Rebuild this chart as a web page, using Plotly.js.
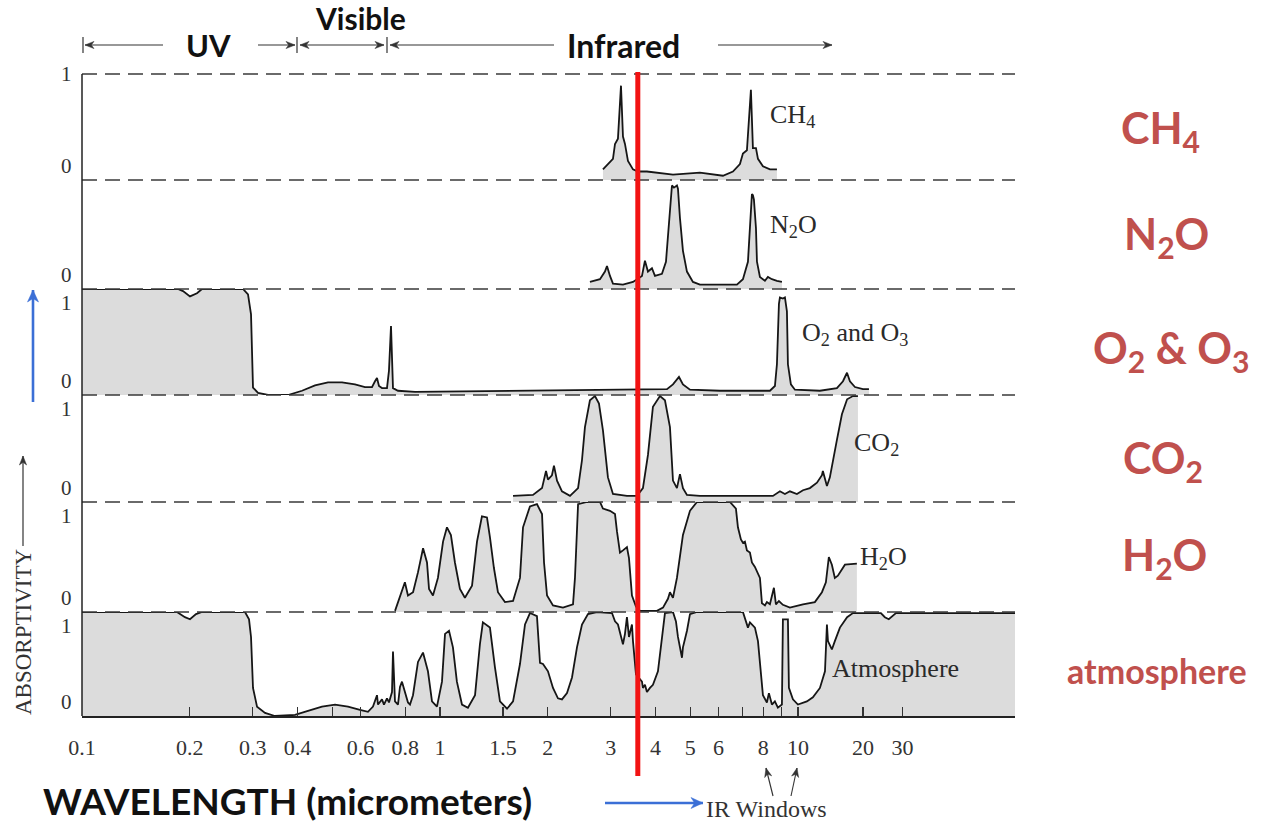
<!DOCTYPE html>
<html>
<head>
<meta charset="utf-8">
<script src="https://cdn.plot.ly/plotly-3.0.1.min.js"></script>
<style>
html,body{margin:0;padding:0;background:#ffffff;}
#chart{width:1261px;height:825px;}
</style>
</head>
<body>
<div id="chart"></div>
<script>
// ---------------- DATA (wavelength in micrometers, absorptivity 0..1) ----------------
const ch4Wavelength = [2.853, 3.043, 3.083, 3.142, 3.204, 3.245, 3.287, 3.351, 3.461, 3.574, 3.786, 4.476, 5.324, 6.173, 6.583, 6.886, 7.020, 7.203, 7.390, 7.486, 7.634, 7.733, 7.984, 8.351, 8.736];
const ch4Absorptivity = [0.10, 0.20, 0.34, 0.39, 0.89, 0.41, 0.34, 0.18, 0.10, 0.08, 0.08, 0.05, 0.07, 0.04, 0.08, 0.15, 0.25, 0.28, 0.85, 0.30, 0.30, 0.20, 0.13, 0.10, 0.10];

const n2oWavelength = [2.624, 2.799, 2.890, 2.928, 2.985, 3.043, 3.245, 3.461, 3.667, 3.738, 3.811, 3.910, 3.986, 4.170, 4.279, 4.334, 4.418, 4.447, 4.504, 4.592, 4.622, 4.682, 4.773, 4.897, 5.090, 5.324, 6.754, 7.020, 7.250, 7.390, 7.438, 7.486, 7.535, 7.634, 7.683, 7.831, 8.087, 8.244, 8.459, 8.736, 9.021];
const n2oAbsorptivity = [0.065, 0.09, 0.16, 0.21, 0.12, 0.05, 0.04, 0.065, 0.12, 0.26, 0.16, 0.19, 0.12, 0.14, 0.25, 0.47, 0.84, 0.95, 0.93, 0.95, 0.92, 0.65, 0.35, 0.16, 0.065, 0.04, 0.04, 0.09, 0.25, 0.65, 0.87, 0.86, 0.82, 0.56, 0.25, 0.11, 0.075, 0.11, 0.09, 0.075, 0.065];

const o2o3Wavelength = [0.100, 0.1854, 0.1915, 0.2003, 0.2095, 0.2164, 0.2817, 0.2909, 0.2966, 0.2985, 0.3004, 0.3103, 0.3309, 0.3763, 0.4117, 0.4476, 0.4866, 0.5325, 0.5789, 0.6173, 0.6458, 0.6584, 0.6669, 0.6755, 0.6887, 0.7112, 0.7204, 0.7298, 0.7345, 0.7392, 0.7633, 0.8140, 0.8516, 3.183, 4.307, 4.476, 4.652, 4.773, 4.993, 6.055, 8.351, 8.624, 8.736, 8.850, 8.906, 9.079, 9.197, 9.316, 9.376, 9.557, 9.807, 11.52, 12.85, 13.36, 13.71, 13.97, 14.43, 15.19, 15.79];
const o2o3Absorptivity = [1.0, 1.0, 0.98, 0.93, 0.96, 1.0, 1.0, 0.95, 0.76, 0.29, 0.07, 0.02, 0.0, 0.0, 0.04, 0.09, 0.12, 0.12, 0.10, 0.075, 0.075, 0.13, 0.16, 0.085, 0.065, 0.065, 0.23, 0.65, 0.20, 0.065, 0.04, 0.03, 0.03, 0.05, 0.055, 0.10, 0.17, 0.10, 0.05, 0.04, 0.04, 0.085, 0.29, 0.86, 0.92, 0.91, 0.92, 0.79, 0.29, 0.10, 0.05, 0.04, 0.065, 0.13, 0.21, 0.13, 0.075, 0.055, 0.055];

const co2Wavelength = [1.600, 1.819, 1.928, 1.978, 2.003, 2.055, 2.082, 2.123, 2.192, 2.308, 2.431, 2.493, 2.541, 2.624, 2.710, 2.781, 2.853, 2.946, 3.043, 3.329, 3.551, 3.690, 3.811, 3.935, 4.117, 4.251, 4.390, 4.476, 4.592, 4.682, 4.773, 4.897, 5.324, 8.514, 8.906, 9.197, 9.497, 9.935, 10.33, 10.80, 11.30, 11.67, 11.74, 12.05, 12.28, 12.52, 12.85, 13.27, 13.72, 14.24, 14.71];
const co2Absorptivity = [0.057, 0.066, 0.13, 0.29, 0.21, 0.25, 0.34, 0.20, 0.10, 0.057, 0.13, 0.39, 0.70, 0.95, 0.99, 0.92, 0.67, 0.23, 0.075, 0.057, 0.057, 0.13, 0.44, 0.89, 0.99, 0.95, 0.70, 0.20, 0.13, 0.26, 0.13, 0.066, 0.057, 0.057, 0.10, 0.075, 0.10, 0.075, 0.11, 0.13, 0.18, 0.25, 0.29, 0.15, 0.23, 0.39, 0.58, 0.82, 0.96, 0.99, 0.99];

const h2oWavelength = [0.749, 0.773, 0.798, 0.814, 0.841, 0.868, 0.897, 0.920, 0.932, 0.956, 0.987, 1.020, 1.046, 1.073, 1.101, 1.137, 1.174, 1.229, 1.269, 1.310, 1.353, 1.379, 1.415, 1.452, 1.519, 1.600, 1.673, 1.706, 1.784, 1.866, 1.928, 1.953, 1.991, 2.069, 2.206, 2.353, 2.383, 2.431, 2.574, 2.799, 2.853, 2.985, 3.083, 3.123, 3.183, 3.245, 3.329, 3.373, 3.438, 3.528, 3.620, 4.038, 4.198, 4.334, 4.390, 4.476, 4.592, 4.773, 4.993, 5.223, 6.457, 6.711, 6.798, 6.930, 7.020, 7.111, 7.203, 7.343, 7.438, 7.583, 7.733, 7.831, 7.933, 8.087, 8.190, 8.351, 8.568, 8.679, 8.848, 9.078, 9.497, 10.33, 11.15, 11.67, 11.97, 12.20, 12.44, 12.68, 12.93, 13.53, 14.61];
const h2oAbsorptivity = [0.01, 0.15, 0.27, 0.15, 0.18, 0.36, 0.58, 0.45, 0.21, 0.15, 0.31, 0.64, 0.77, 0.70, 0.45, 0.21, 0.13, 0.24, 0.64, 0.87, 0.86, 0.68, 0.40, 0.18, 0.09, 0.10, 0.31, 0.77, 0.96, 0.98, 0.89, 0.45, 0.15, 0.06, 0.04, 0.07, 0.31, 0.98, 1.0, 1.0, 0.94, 0.92, 0.89, 0.73, 0.54, 0.56, 0.59, 0.49, 0.15, 0.05, 0.01, 0.01, 0.04, 0.12, 0.18, 0.13, 0.31, 0.70, 0.92, 1.0, 1.0, 0.94, 0.77, 0.66, 0.63, 0.64, 0.56, 0.54, 0.45, 0.41, 0.35, 0.31, 0.08, 0.06, 0.09, 0.07, 0.22, 0.07, 0.10, 0.065, 0.04, 0.07, 0.09, 0.18, 0.27, 0.50, 0.43, 0.31, 0.33, 0.43, 0.44];

const atmWavelength = [0.100, 0.1842, 0.1939, 0.2003, 0.2082, 0.2164, 0.2853, 0.2928, 0.2966, 0.3004, 0.3083, 0.3246, 0.3459, 0.3936, 0.4279, 0.4682, 0.5091, 0.5535, 0.5978, 0.6294, 0.6500, 0.6669, 0.6712, 0.6887, 0.6976, 0.7112, 0.7204, 0.7345, 0.7392, 0.7488, 0.7633, 0.7732, 0.7832, 0.7985, 0.8140, 0.8246, 0.8407, 0.8681, 0.8966, 0.9256, 0.9500, 0.9809, 1.013, 1.033, 1.060, 1.087, 1.115, 1.152, 1.197, 1.253, 1.293, 1.318, 1.379, 1.424, 1.471, 1.539, 1.600, 1.673, 1.728, 1.784, 1.866, 1.903, 1.940, 2.003, 2.069, 2.136, 2.192, 2.264, 2.338, 2.414, 2.493, 2.591, 2.746, 3.024, 3.083, 3.142, 3.204, 3.245, 3.287, 3.329, 3.373, 3.438, 3.461, 3.528, 3.667, 3.690, 3.738, 3.786, 3.860, 3.935, 4.064, 4.170, 4.251, 4.476, 4.563, 4.622, 4.743, 4.773, 4.898, 4.993, 5.223, 7.020, 7.157, 7.250, 7.343, 7.583, 7.733, 7.882, 7.984, 8.190, 8.297, 8.459, 8.622, 8.790, 9.021, 9.079, 9.197, 9.376, 9.436, 9.682, 9.998, 10.59, 11.01, 11.52, 11.90, 12.05, 12.13, 12.44, 12.68, 13.10, 13.72, 14.24, 17.05, 17.49, 17.94, 18.42, 18.78, 40.4];
const atmAbsorptivity = [1.0, 1.0, 0.95, 0.93, 0.98, 1.0, 1.0, 0.93, 0.76, 0.27, 0.09, 0.03, 0.0, 0.01, 0.05, 0.09, 0.11, 0.09, 0.06, 0.04, 0.09, 0.20, 0.11, 0.16, 0.11, 0.17, 0.13, 0.23, 0.62, 0.14, 0.11, 0.28, 0.33, 0.22, 0.13, 0.11, 0.20, 0.52, 0.61, 0.43, 0.14, 0.09, 0.33, 0.79, 0.82, 0.66, 0.33, 0.11, 0.08, 0.20, 0.69, 0.90, 0.85, 0.47, 0.14, 0.07, 0.14, 0.50, 0.88, 0.99, 0.96, 0.51, 0.50, 0.43, 0.27, 0.17, 0.16, 0.22, 0.37, 0.66, 0.88, 0.98, 1.0, 0.99, 0.91, 0.88, 0.77, 0.69, 0.79, 0.95, 0.76, 0.88, 0.72, 0.40, 0.33, 0.27, 0.30, 0.23, 0.27, 0.30, 0.43, 0.76, 0.99, 1.0, 0.91, 0.76, 0.56, 0.66, 0.82, 0.98, 1.0, 1.0, 0.91, 0.85, 0.90, 0.85, 0.72, 0.43, 0.20, 0.13, 0.22, 0.11, 0.14, 0.08, 0.11, 0.93, 0.93, 0.93, 0.27, 0.16, 0.11, 0.14, 0.18, 0.27, 0.43, 0.88, 0.72, 0.64, 0.72, 0.85, 0.95, 0.99, 0.99, 0.95, 0.93, 0.96, 0.99, 0.99];

// x axis ticks (positions as printed on the reference figure)
const xTickValues = [0.1, 0.2, 0.3, 0.4, 0.6, 0.8, 1, 1.5, 2, 3, 4, 5, 6, 8, 10, 15.2, 19.6];
const xTickLabels = ['0.1', '0.2', '0.3', '0.4', '0.6', '0.8', '1', '1.5', '2', '3', '4', '5', '6', '8', '10', '20', '30'];
const xUnlabeledTicks = [0.5, 7, 9];
const xRangeMicrons = [0.1, 40.4];

// panels
const panelGases = ['CH<sub>4</sub>', 'N<sub>2</sub>O', 'O<sub>2</sub> and O<sub>3</sub>', 'CO<sub>2</sub>', 'H<sub>2</sub>O', 'Atmosphere'];
const panelSideNames = ['CH<sub>4</sub>', 'N<sub>2</sub>O', 'O<sub>2</sub> & O<sub>3</sub>', 'CO<sub>2</sub>', 'H<sub>2</sub>O', 'atmosphere'];
const panelTopTick = ['1', '', '1', '1', '1', '1'];
const panelBaseTick = ['0', '0', '0', '0', '0', '0'];
const markedWavelength = 3.57;

// ---------------- LAYOUT HELPERS ----------------
const plotLeft = 82, plotRight = 1015, plotTop = 74, plotBottom = 716;
const px = x => (x - plotLeft) / (plotRight - plotLeft);
const py = y => (plotBottom - y) / (plotBottom - plotTop);
const logMin = Math.log10(xRangeMicrons[0]), logMax = Math.log10(xRangeMicrons[1]);
const wx = w => (Math.log10(w) - logMin) / (logMax - logMin);
const panelEdgesPx = [74, 180, 289, 395, 502, 612, 716];

const seriesX = [ch4Wavelength, n2oWavelength, o2o3Wavelength, co2Wavelength, h2oWavelength, atmWavelength];
const seriesY = [ch4Absorptivity, n2oAbsorptivity, o2o3Absorptivity, co2Absorptivity, h2oAbsorptivity, atmAbsorptivity];
const axId = i => (i === 0 ? 'y' : 'y' + (i + 1));

const traces = seriesX.map((xs, i) => ({
  type: 'scatter', mode: 'lines', x: xs, y: seriesY[i], xaxis: 'x', yaxis: axId(i),
  line: {color: '#161616', width: 1.8}, fill: 'tozeroy', fillcolor: '#dcdcdc',
  hoverinfo: 'skip', showlegend: false
}));

const serif = 'Liberation Serif, Times New Roman, serif';
const sans = 'Lato, Open Sans, sans-serif';
const accent = '#c0504d';

const layout = {
  width: 1261, height: 825, autosize: false,
  margin: {l: plotLeft, r: 1261 - plotRight, t: plotTop, b: 825 - plotBottom, pad: 0},
  paper_bgcolor: '#ffffff', plot_bgcolor: 'rgba(0,0,0,0)',
  showlegend: false,
  font: {family: serif, color: '#222'},
  xaxis: {
    type: 'log', range: [logMin, logMax], anchor: 'y6', domain: [0, 1],
    tickmode: 'array', tickvals: xTickValues, ticktext: xTickLabels,
    ticks: 'inside', ticklen: 9, tickwidth: 1.3, tickcolor: '#333',
    minor: {tickmode: 'array', tickvals: xUnlabeledTicks, ticks: 'inside', ticklen: 9, tickwidth: 1.3, tickcolor: '#333', showgrid: false},
    showline: true, linecolor: '#222', linewidth: 1.6, mirror: false,
    showgrid: false, zeroline: false, fixedrange: true,
    tickfont: {family: serif, size: 22, color: '#333'}, ticklabelstandoff: 11
  },
  shapes: [], annotations: []
};

for (let i = 0; i < 6; i++) {
  const key = i === 0 ? 'yaxis' : 'yaxis' + (i + 1);
  layout[key] = {
    domain: [py(panelEdgesPx[i + 1]), py(panelEdgesPx[i])], range: [0, 1], anchor: 'x',
    showticklabels: false, showgrid: false, zeroline: false, showline: false, ticks: '', fixedrange: true
  };
  // 0 / 1 labels
  layout.annotations.push({xref: 'paper', x: 0, xanchor: 'right', xshift: -8, yref: axId(i), y: 0,
    yanchor: 'bottom', text: panelBaseTick[i], showarrow: false,
    font: {family: serif, size: 21, color: '#333'}});
  if (panelTopTick[i]) {
    layout.annotations.push({xref: 'paper', x: 0, xanchor: 'right', xshift: -8, yref: axId(i), y: 1,
      yanchor: i === 0 ? 'middle' : 'top', text: panelTopTick[i], showarrow: false,
      font: {family: serif, size: 21, color: '#333'}});
  }
}

const S = layout.shapes;
// dashed panel boundaries
panelEdgesPx.slice(0, 6).forEach(e => {
  S.push({type: 'line', xref: 'paper', yref: 'paper', x0: 0, x1: 1, y0: py(e), y1: py(e),
    line: {color: '#3a3a3a', width: 1.6, dash: '15px,8px'}});
});
// left frame line
S.push({type: 'line', xref: 'paper', yref: 'paper', x0: 0, x1: 0, y0: 0, y1: 1, line: {color: '#222', width: 1.5}});
// header bars
[83, 297, 387].forEach(b => {
  S.push({type: 'line', xref: 'paper', yref: 'paper', x0: px(b), x1: px(b), y0: py(53), y1: py(37),
    line: {color: '#333', width: 1.2}});
});
// red marker line
S.push({type: 'line', xref: 'paper', yref: 'paper', x0: wx(markedWavelength), x1: wx(markedWavelength),
  y0: py(776), y1: py(72), line: {color: '#f21313', width: 5}});

// arrows drawn as shapes (pixel positions converted to paper coordinates)
function head(tx, ty, hx, hy, len, half, color) {
  const d = Math.hypot(hx - tx, hy - ty), ux = (hx - tx) / d, uy = (hy - ty) / d, nx = -uy, ny = ux;
  const bx = hx - len * ux, by = hy - len * uy, kx = hx - 0.7 * len * ux, ky = hy - 0.7 * len * uy;
  const pts = [[hx, hy], [bx + half * nx, by + half * ny], [kx, ky], [bx - half * nx, by - half * ny]];
  const path = 'M' + pts.map(p => px(p[0]).toFixed(5) + ',' + py(p[1]).toFixed(5)).join(' L') + ' Z';
  S.push({type: 'path', xref: 'paper', yref: 'paper', path: path, fillcolor: color, line: {color: color, width: 0.5}});
}
function arrow(tx, ty, hx, hy, w, color, both) {
  S.push({type: 'line', xref: 'paper', yref: 'paper', x0: px(tx), y0: py(ty), x1: px(hx), y1: py(hy),
    line: {color: color, width: w}});
  const len = w > 2 ? 12 : 9, half = w > 2 ? 5.5 : 3.6;
  head(tx, ty, hx, hy, len, half, color);
  if (both) head(hx, hy, tx, ty, len, half, color);
}
arrow(163, 45, 85, 45, 1.2, '#333');
arrow(258, 45, 295, 45, 1.2, '#333');
arrow(300, 45, 384, 45, 1.2, '#333', true);
arrow(554, 45, 390, 45, 1.2, '#333');
arrow(718, 45, 832, 45, 1.2, '#333');
arrow(605, 803, 703, 803, 2.6, '#3b6fd6');
arrow(773, 796, 766, 768, 1.1, '#333');
arrow(791, 796, 797, 768, 1.1, '#333');
arrow(33, 402, 33, 290, 2.6, '#3b6fd6');
arrow(23, 546, 23, 456, 1.2, '#333');

const A = layout.annotations;
const txt = (x, y, text, font, extra) => A.push(Object.assign({xref: 'paper', yref: 'paper', x: px(x), y: py(y),
  xanchor: 'center', yanchor: 'middle', text: text, showarrow: false, font: font}, extra || {}));

// panel gas labels
const gasLabelPos = [[768, 116], [768, 226], [800, 334], [852, 444], [858, 558], [830, 668]];
panelGases.forEach((t, i) => txt(gasLabelPos[i][0], gasLabelPos[i][1], t,
  {family: serif, size: 26, color: '#2a2a2a'}, {xanchor: 'left'}));
// side labels
const sideLabelPos = [[1160, 130], [1166, 237], [1171, 350], [1163, 460], [1164, 557], [1157, 670]];
panelSideNames.forEach((t, i) => txt(sideLabelPos[i][0], sideLabelPos[i][1], '<b>' + t + '</b>',
  {family: sans, size: i === 5 ? 34 : 43, color: accent}));
// header texts
txt(208, 45, '<b>UV</b>', {family: sans, size: 31, color: '#111'});
txt(360, 18, '<b>Visible</b>', {family: sans, size: 30, color: '#111'});
txt(623, 45, '<b>Infrared</b>', {family: sans, size: 32, color: '#111'});
// x title
txt(287, 800, '<b>WAVELENGTH (micrometers)</b>', {family: sans, size: 37, color: '#111'});
// IR windows
txt(704, 809, 'IR Windows', {family: serif, size: 24, color: '#333'}, {xanchor: 'left'});
// ABSORPTIVITY
txt(23, 632, 'ABSORPTIVITY', {family: serif, size: 23, color: '#333'}, {textangle: -90});

Plotly.newPlot('chart', traces, layout, {displayModeBar: false, staticPlot: true});
</script>
</body>
</html>
